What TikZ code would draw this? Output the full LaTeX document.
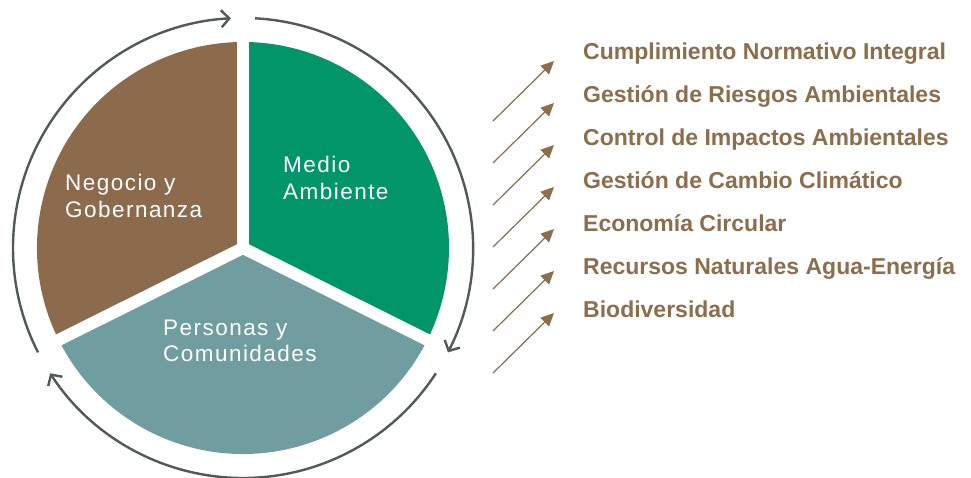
\documentclass[tikz,border=0pt]{standalone}
\usepackage{fontspec}
\setmainfont{Liberation Sans}
\newfontfamily\piefont[LetterSpace=6.5]{Liberation Sans}
\usetikzlibrary{arrows.meta}
\definecolor{cbrown}{HTML}{8C6B4C}
\definecolor{cgreen}{HTML}{00966A}
\definecolor{cteal}{HTML}{709EA0}
\definecolor{cring}{HTML}{505A5C}
\definecolor{ctext}{HTML}{8C6D4C}
\tikzset{
  ring/.style={draw=cring, line width=2.4pt, -{Straight Barb[length=8pt,width=17pt]}},
  divider/.style={draw=white, line width=12pt, line cap=round},
  pietext/.style={text=white, font=\piefont\fontsize{22.5}{27}\selectfont, inner sep=0pt, anchor=base west},
  item/.style={text=ctext, font=\bfseries\fontsize{23}{27}\selectfont, inner sep=0pt, anchor=base west},
  diag/.style={draw=ctext, line width=1.2pt, -{Triangle[length=13pt,width=12pt]}}
}
\begin{document}
\begin{tikzpicture}[x=1pt,y=-1pt]
\useasboundingbox (0,0) rectangle (971,478);
\coordinate (c) at (243,248);
% pie sectors
\fill[cbrown] (c) -- ++(153.5:206) arc[start angle=153.5,end angle=270,radius=206] -- cycle;
\fill[cgreen] (c) -- ++(270:206) arc[start angle=270,end angle=386.5,radius=206] -- cycle;
\fill[cteal] (c) -- ++(26.5:206) arc[start angle=26.5,end angle=153.5,radius=206] -- cycle;
\draw[divider] (c) -- ++(270:216);
\draw[divider] (c) -- ++(26.5:216);
\draw[divider] (c) -- ++(153.5:216);
% ring arrows
\draw[ring] (c) ++(153:230) arc[start angle=153,end angle=267,radius=230];
\draw[ring] (c) ++(273:230) arc[start angle=273,end angle=387,radius=230];
\draw[ring] (c) ++(33:230) arc[start angle=33,end angle=147,radius=230];
% pie labels
\node[pietext] (neg1) at (65,191) {Negocio y};
\node[pietext] (neg2) at (65,218) {Gobernanza};
\node[pietext] (med1) at (283,173) {Medio};
\node[pietext] (med2) at (283,200) {Ambiente};
\node[pietext] (per1) at (163,335) {Personas y};
\node[pietext] (per2) at (163,361) {Comunidades};
% diagonal arrows
\foreach \i in {0,...,6}{
  \coordinate (t\i) at (493,{121+42*\i});
  \coordinate (h\i) at (554,{61+42*\i});
  \draw[diag] (t\i) -- (h\i);
}
% items
\node[item] (i1) at (583,60) {Cumplimiento Normativo Integral};
\node[item] (i2) at (583,102.8) {Gestión de Riesgos Ambientales};
\node[item] (i3) at (583,145.7) {Control de Impactos Ambientales};
\node[item] (i4) at (583,188.5) {Gestión de Cambio Climático};
\node[item] (i5) at (583,231.3) {Economía Circular};
\node[item] (i6) at (583,274.2) {Recursos Naturales Agua-Energía};
\node[item] (i7) at (583,317) {Biodiversidad};
\end{tikzpicture}
\end{document}
